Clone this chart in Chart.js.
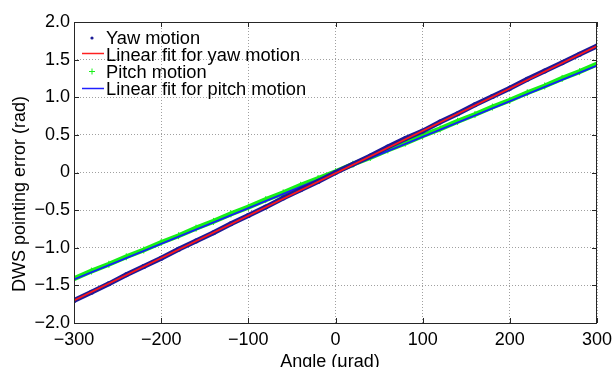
<!DOCTYPE html>
<html lang="en">
  <head>
    <meta charset="UTF-8" />
    <title>DWS pointing error</title>
    <script src="https://cdn.jsdelivr.net/npm/chart.js"></script>
    <style>
      body {
        margin: 0;
        background: #fff;
      }
      #chart {
        display: block;
      }
    </style>
  </head>
  <body>
    <canvas id="chart" width="613" height="367"></canvas>

    <script>
      // angle steps (urad) where the motion samples were read
      const angles = [
        -300, -280, -260, -240, -220, -200, -180, -160, -140, -120, -100, -80,
        -60, -40, -20, 0, 20, 40, 60, 80, 100, 120, 140, 160, 180, 200, 220,
        240, 260, 280, 300,
      ];
      const yawMotion = [
        -1.7, -1.59, -1.48, -1.36, -1.25, -1.14, -1.02, -0.91, -0.8, -0.68,
        -0.57, -0.46, -0.34, -0.23, -0.12, 0.0, 0.11, 0.22, 0.34, 0.45, 0.55,
        0.67, 0.78, 0.9, 1.01, 1.12, 1.24, 1.35, 1.46, 1.57, 1.68,
      ];
      const pitchMotion = [
        -1.41, -1.31, -1.22, -1.12, -1.03, -0.93, -0.84, -0.74, -0.65, -0.55,
        -0.46, -0.36, -0.27, -0.17, -0.08, 0.01, 0.11, 0.2, 0.3, 0.39, 0.49,
        0.58, 0.68, 0.77, 0.87, 0.96, 1.06, 1.15, 1.25, 1.34, 1.44,
      ];
      const fitAngles = [-300, 300];
      const yawFit = [-1.7, 1.68];
      const pitchFit = [-1.42, 1.42];

      const xTicks = [-300, -200, -100, 0, 100, 200, 300];
      const yTicks = [-2, -1.5, -1, -0.5, 0, 0.5, 1, 1.5, 2];

      const legendItems = [
        "Yaw motion",
        "Linear fit for yaw motion",
        "Pitch motion",
        "Linear fit for pitch motion",
      ];

      const FONT = "Liberation Sans, Arial, sans-serif";

      function pts(xs, ys) {
        return xs.map((x, i) => ({ x: x, y: ys[i] }));
      }

      function fmt(v, dec) {
        if (v === 0) return "0";
        return v.toFixed(dec).replace("-", "\u2212");
      }

      // box round the plot, inward tick marks, legend and axis titles
      const matlabLook = {
        id: "matlabLook",
        afterDraw(chart) {
          const ctx = chart.ctx;
          const a = chart.chartArea;
          const xs = chart.scales.x;
          const ys = chart.scales.y;
          ctx.save();
          ctx.strokeStyle = "#262626";
          ctx.lineWidth = 1;
          ctx.strokeRect(a.left + 0.5, a.top + 0.5, a.right - a.left - 1, a.bottom - a.top);
          ctx.beginPath();
          xTicks.forEach((t) => {
            const px = Math.round(xs.getPixelForValue(t)) + 0.5;
            ctx.moveTo(px, a.bottom);
            ctx.lineTo(px, a.bottom - 5);
            ctx.moveTo(px, a.top);
            ctx.lineTo(px, a.top + 5);
          });
          yTicks.forEach((t) => {
            const py = Math.round(ys.getPixelForValue(t)) + 0.5;
            ctx.moveTo(a.left, py);
            ctx.lineTo(a.left + 5, py);
            ctx.moveTo(a.right, py);
            ctx.lineTo(a.right - 5, py);
          });
          ctx.stroke();

          // legend
          ctx.font = "18.3px " + FONT;
          ctx.fillStyle = "#000";
          ctx.textBaseline = "alphabetic";
          ctx.textAlign = "left";
          legendItems.forEach((txt, i) => {
            const base = 43.5 + i * 17.2;
            ctx.fillText(txt, 106, base);
          });
          // markers
          ctx.fillStyle = "#1c1c96";
          ctx.beginPath();
          ctx.arc(92, 38, 1.6, 0, Math.PI * 2);
          ctx.fill();
          ctx.lineWidth = 1.5;
          ctx.strokeStyle = "#ff2020";
          ctx.beginPath();
          ctx.moveTo(82, 53.5);
          ctx.lineTo(104, 53.5);
          ctx.stroke();
          ctx.strokeStyle = "#18f018";
          ctx.lineWidth = 1;
          ctx.beginPath();
          ctx.moveTo(89, 71.5);
          ctx.lineTo(95, 71.5);
          ctx.moveTo(92, 68.5);
          ctx.lineTo(92, 74.5);
          ctx.stroke();
          ctx.strokeStyle = "#2020ff";
          ctx.lineWidth = 1.5;
          ctx.beginPath();
          ctx.moveTo(82, 88.5);
          ctx.lineTo(104, 88.5);
          ctx.stroke();

          // axis titles
          ctx.fillStyle = "#000";
          ctx.font = "18px " + FONT;
          ctx.textAlign = "center";
          ctx.fillText("Angle (\u03bcrad)", 330, 367);
          ctx.save();
          ctx.translate(25, 194);
          ctx.rotate(-Math.PI / 2);
          ctx.fillText("DWS pointing error (rad)", 0, 0);
          ctx.restore();
          ctx.restore();
        },
      };

      new Chart(document.getElementById("chart"), {
        type: "scatter",
        data: {
          datasets: [
            {
              label: legendItems[0],
              data: pts(angles, yawMotion),
              showLine: true,
              borderColor: "#1e1a98",
              borderWidth: 5,
              backgroundColor: "#1e1a98",
              pointRadius: 2.5,
              pointBorderWidth: 0,
              order: 1,
            },
            {
              label: legendItems[1],
              data: pts(fitAngles, yawFit),
              showLine: true,
              borderColor: "#ff1818",
              borderWidth: 1.8,
              pointRadius: 0,
              order: 0,
            },
            {
              label: legendItems[2],
              data: pts(angles, pitchMotion),
              showLine: true,
              borderColor: "#18f018",
              borderWidth: 5,
              backgroundColor: "#18f018",
              pointStyle: "cross",
              pointRadius: 3.5,
              pointBorderColor: "#18f018",
              pointBorderWidth: 1,
              order: 3,
            },
            {
              label: legendItems[3],
              data: pts(fitAngles, pitchFit),
              showLine: true,
              borderColor: "#1818ff",
              borderWidth: 1.8,
              pointRadius: 0,
              order: 2,
            },
          ],
        },
        options: {
          responsive: false,
          animation: false,
          devicePixelRatio: 1,
          layout: { padding: { top: 22, right: 16, left: 0, bottom: 0 } },
          plugins: {
            legend: { display: false },
            tooltip: { enabled: false },
          },
          scales: {
            x: {
              type: "linear",
              min: -300,
              max: 300,
              afterBuildTicks: (s) => {
                s.ticks = xTicks.map((v) => ({ value: v }));
              },
              afterFit: (s) => {
                s.height = 44;
                s.paddingLeft = 0;
                s.paddingRight = 0;
              },
              ticks: {
                color: "#000",
                font: { family: FONT, size: 18 },
                padding: 6,
                maxRotation: 0,
                callback: (v) => fmt(v, 0),
              },
              grid: { color: "#a0a0a0", drawTicks: false, lineWidth: 1 },
              border: { display: false, dash: [1, 2] },
            },
            y: {
              type: "linear",
              min: -2,
              max: 2,
              afterBuildTicks: (s) => {
                s.ticks = yTicks.map((v) => ({ value: v }));
              },
              afterFit: (s) => {
                s.width = 74;
                s.paddingTop = 0;
                s.paddingBottom = 0;
              },
              ticks: {
                color: "#000",
                font: { family: FONT, size: 18 },
                padding: 4,
                callback: (v) => fmt(v, 1),
              },
              grid: { color: "#a0a0a0", drawTicks: false, lineWidth: 1 },
              border: { display: false, dash: [1, 2] },
            },
          },
        },
        plugins: [matlabLook],
      });
    </script>
  </body>
</html>
